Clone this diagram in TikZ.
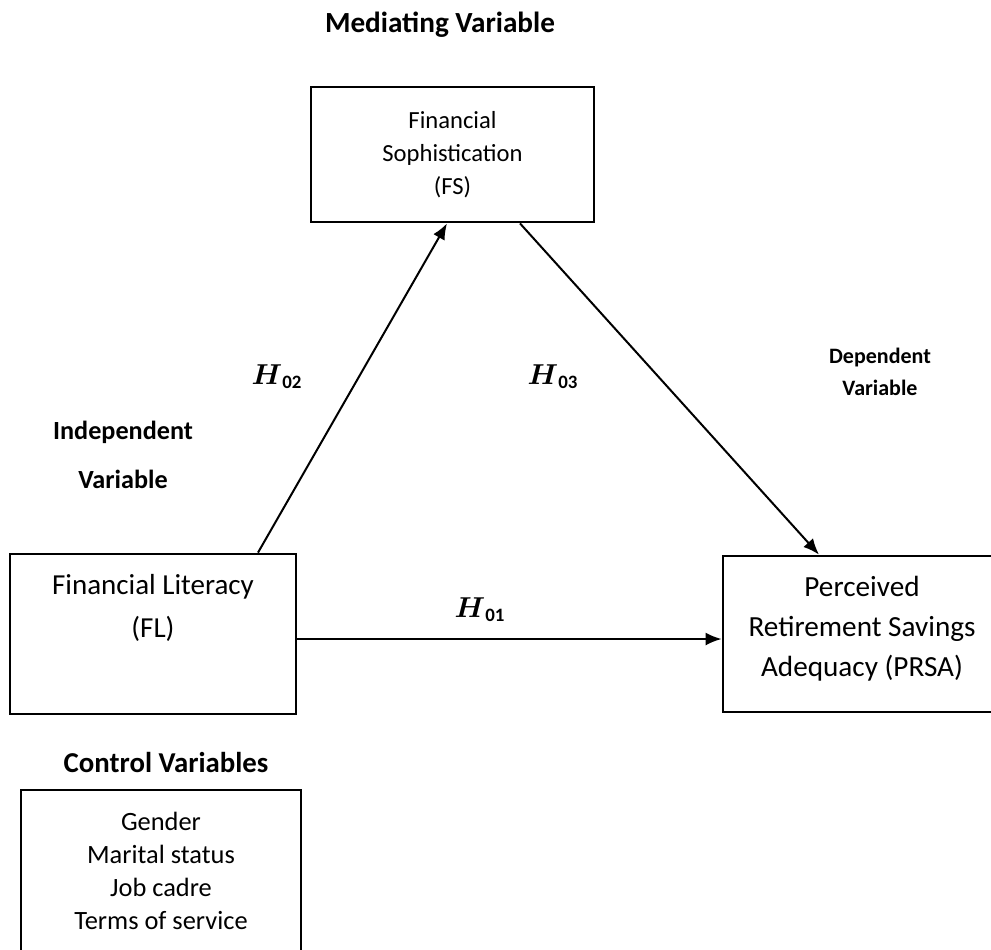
\documentclass[tikz,border=0pt]{standalone}
\usepackage{amsmath}
\usepackage{fontspec}
\setmainfont{Carlito}
\usetikzlibrary{arrows.meta}

\begin{document}
\begin{tikzpicture}[x=0.5pt, y=-0.5pt,
        varbox/.style={draw, rectangle, line width=1.4pt, align=center},
        heading/.style={align=center, font=\bfseries\fontsize{14.6}{18}\selectfont},
        hyp/.style={font=\fontsize{13.5}{15}\selectfont},
        link/.style={-{Latex[length=8pt, width=6.5pt]}, line width=1pt}]
        \useasboundingbox (0,0) rectangle (991,949);

        \node[varbox, minimum width=141.5pt, minimum height=67.5pt, font=\fontsize{12.3}{16.5}\selectfont] (fs) at (452.5,154.5) {Financial\\Sophistication\\(FS)};
        \node[varbox, minimum width=143pt, minimum height=80pt, font=\fontsize{14.5}{21.5}\selectfont] (fl) at (153,634) {Financial Literacy\\(FL)\\[0pt]\strut};
        \node[varbox, minimum width=139pt, minimum height=78pt, font=\fontsize{14.6}{20}\selectfont] (prsa) at (862,634) {Perceived\\Retirement Savings\\Adequacy (PRSA)\\[-18.5pt]\strut};
        \node[varbox, minimum width=140pt, minimum height=81pt, font=\fontsize{13.2}{16.5}\selectfont] (ctrl) at (161,871) {Gender\\Marital status\\Job cadre\\Terms of service};

        \node[heading] (medlbl) at (440,25) {Mediating Variable};
        \node[heading, font=\bfseries\fontsize{11}{16}\selectfont] (deplbl) at (880,372) {Dependent\\Variable};
        \node[heading, font=\bfseries\fontsize{13.1}{24.5}\selectfont] (indlbl) at (123,455) {Independent\\Variable};
        \node[heading, font=\bfseries\fontsize{14.4}{18}\selectfont] (ctrllbl) at (166,762) {Control Variables};

        \node[hyp] (h01) at (480,610) {$\boldsymbol{H}_{\mathbf{01}}$};
        \node[hyp] (h02) at (277,377) {$\boldsymbol{H}_{\mathbf{02}}$};
        \node[hyp] (h03) at (553,377) {$\boldsymbol{H}_{\mathbf{03}}$};

        \draw[link] ([xshift=52.5pt]fl.north) -- ([xshift=-2.75pt]fs.south);
        \draw[link] ([xshift=33.75pt]fs.south) -- ([xshift=-21.5pt]prsa.north);
        \draw[link] ([yshift=-2.5pt]fl.east) -- ([yshift=-2.5pt]prsa.west);
    \end{tikzpicture}
\end{document}
